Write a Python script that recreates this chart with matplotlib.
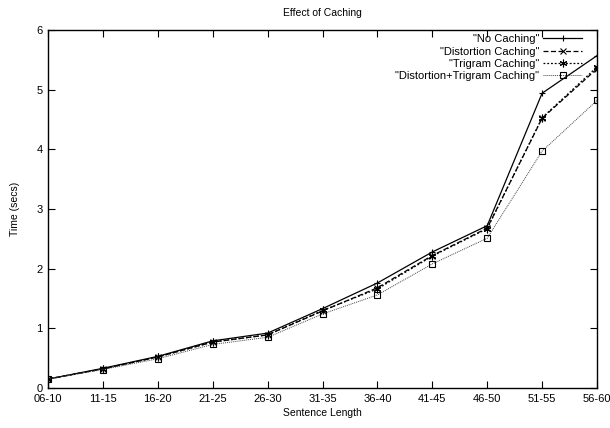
import matplotlib
matplotlib.use("Agg")
import matplotlib.pyplot as plt

categories = ["06-10", "11-15", "16-20", "21-25", "26-30", "31-35",
              "36-40", "41-45", "46-50", "51-55", "56-60"]
no_caching = [0.15, 0.33, 0.53, 0.79, 0.92, 1.33, 1.76, 2.28, 2.72, 4.94, 5.57]
distortion_caching = [0.15, 0.32, 0.52, 0.77, 0.89, 1.29, 1.68, 2.22, 2.68, 4.52, 5.35]
trigram_caching = [0.15, 0.32, 0.52, 0.77, 0.89, 1.30, 1.66, 2.21, 2.67, 4.53, 5.38]
dist_trigram_caching = [0.15, 0.31, 0.49, 0.73, 0.85, 1.24, 1.56, 2.08, 2.51, 3.97, 4.82]
y_ticks = [0, 1, 2, 3, 4, 5, 6]

plt.rcParams['font.family'] = ['Liberation Sans', 'DejaVu Sans']

fig = plt.figure(figsize=(6.10, 4.28), dpi=100)
ax = fig.add_axes([48/610, 40/428, (597-48)/610, (388-30)/428])

x = list(range(len(categories)))
ax.plot(x, no_caching, color='black', lw=0.9, ls='-', marker='+', ms=5,
        mew=0.8, label='"No Caching"')
ax.plot(x, distortion_caching, color='black', lw=0.9, ls=(0, (4, 2)), marker='x', ms=4,
        mew=0.8, label='"Distortion Caching"')
ax.plot(x, trigram_caching, color='black', lw=0.9, ls=(0, (1.5, 1.5)), marker=(6, 2, 0), ms=5.5,
        mew=0.8, label='"Trigram Caching"')
ax.plot(x, dist_trigram_caching, color='#444444', lw=0.7, ls=(0, (1, 1)), marker='s', ms=4.5,
        mfc='none', mec='black', mew=0.8, label='"Distortion+Trigram Caching"')

ax.set_xlim(0, len(categories) - 1)
ax.set_ylim(0, 6)
ax.set_xticks(x)
ax.set_xticklabels(categories)
ax.set_yticks(y_ticks)
ax.tick_params(direction='in', top=True, right=True, length=5, width=0.8,
               labelsize=8, pad=4)
for s in ax.spines.values():
    s.set_linewidth(1.0)

ax.set_title("Effect of Caching", fontsize=7.5, pad=10)
ax.set_xlabel("Sentence Length", fontsize=7.5, labelpad=3)
ax.set_ylabel("Time (secs)", fontsize=7.5, labelpad=12)

leg = ax.legend(loc='upper right', bbox_to_anchor=(0.973, 0.988), frameon=False,
                markerfirst=False, fontsize=8,
                handlelength=3.5, handletextpad=0.35, labelspacing=0.2,
                borderaxespad=0.0, borderpad=0.0)

fig.savefig("out.png", dpi=100)
